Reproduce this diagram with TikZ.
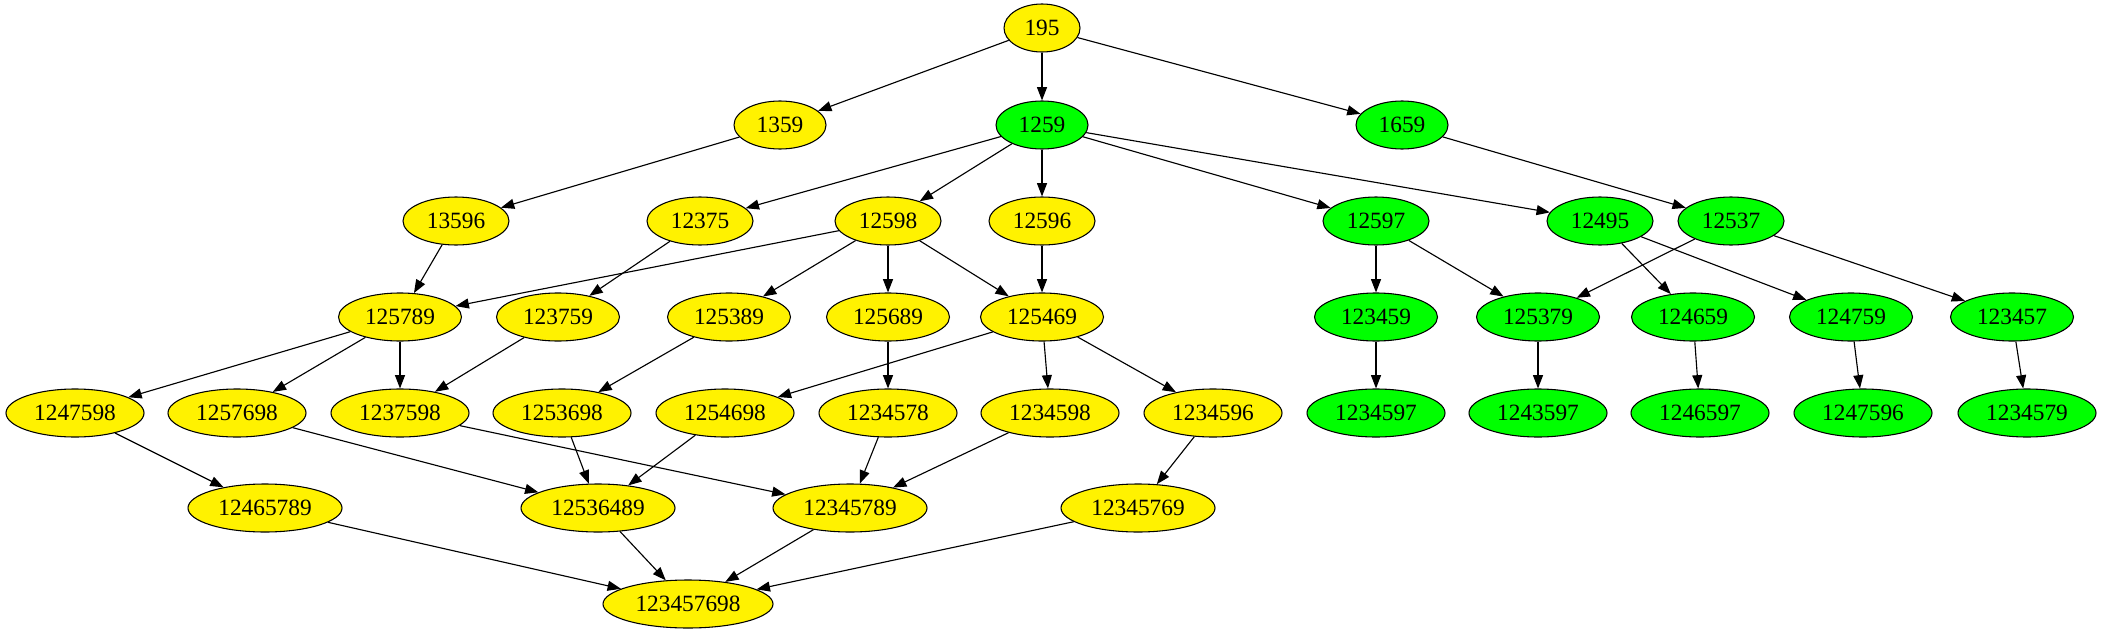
\documentclass[tikz,border=0pt]{standalone}
\usepackage{fontspec}
\setmainfont{Liberation Serif}
\usetikzlibrary{arrows.meta,shapes.geometric}
\begin{document}
\begin{tikzpicture}[x=0.75pt,y=-0.75pt,
  nd/.style={ellipse, draw, line width=0.8pt, inner sep=0pt, minimum height=36pt, font=\fontsize{17.5}{20}\selectfont},
  yn/.style={nd, fill=yellow},
  gn/.style={nd, fill=green},
  w3/.style={minimum width=57pt},
  w4/.style={minimum width=69pt},
  w5/.style={minimum width=79.5pt},
  w6/.style={minimum width=92.25pt},
  w7/.style={minimum width=103.5pt},
  w8/.style={minimum width=115.5pt},
  w9/.style={minimum width=127.5pt},
  arr/.style={-{Triangle[length=10pt,width=7.5pt]}, line width=0.85pt}
]
\useasboundingbox (0,0) rectangle (2101,635);
% row 1
\node[yn,w3] (n195) at (1042,28) {195};
% row 2
\node[yn,w4] (n1359) at (780,125) {1359};
\node[gn,w4] (n1259) at (1042,125) {1259};
\node[gn,w4] (n1659) at (1402,125) {1659};
% row 3
\node[yn,w5] (n13596) at (456,221) {13596};
\node[yn,w5] (n12375) at (700,221) {12375};
\node[yn,w5] (n12598) at (888,221) {12598};
\node[yn,w5] (n12596) at (1042,221) {12596};
\node[gn,w5] (n12597) at (1376,221) {12597};
\node[gn,w5] (n12495) at (1600,221) {12495};
\node[gn,w5] (n12537) at (1731,221) {12537};
% row 4
\node[yn,w6] (n125789) at (400,317) {125789};
\node[yn,w6] (n123759) at (558,317) {123759};
\node[yn,w6] (n125389) at (729,317) {125389};
\node[yn,w6] (n125689) at (888,317) {125689};
\node[yn,w6] (n125469) at (1042,317) {125469};
\node[gn,w6] (n123459) at (1376,317) {123459};
\node[gn,w6] (n125379) at (1538,317) {125379};
\node[gn,w6] (n124659) at (1693,317) {124659};
\node[gn,w6] (n124759) at (1851,317) {124759};
\node[gn,w6] (n123457) at (2012,317) {123457};
% row 5
\node[yn,w7] (n1247598) at (75,413) {1247598};
\node[yn,w7] (n1257698) at (237,413) {1257698};
\node[yn,w7] (n1237598) at (400,413) {1237598};
\node[yn,w7] (n1253698) at (562,413) {1253698};
\node[yn,w7] (n1254698) at (725,413) {1254698};
\node[yn,w7] (n1234578) at (888,413) {1234578};
\node[yn,w7] (n1234598) at (1050,413) {1234598};
\node[yn,w7] (n1234596) at (1213,413) {1234596};
\node[gn,w7] (n1234597) at (1376,413) {1234597};
\node[gn,w7] (n1243597) at (1538,413) {1243597};
\node[gn,w7] (n1246597) at (1700,413) {1246597};
\node[gn,w7] (n1247596) at (1863,413) {1247596};
\node[gn,w7] (n1234579) at (2027,413) {1234579};
% row 6
\node[yn,w8] (n12465789) at (265,508) {12465789};
\node[yn,w8] (n12536489) at (598,508) {12536489};
\node[yn,w8] (n12345789) at (850,508) {12345789};
\node[yn,w8] (n12345769) at (1138,508) {12345769};
% row 7
\node[yn,w9] (n123457698) at (688,604) {123457698};
% edges
\draw[arr] (n195) -- (n1359);
\draw[arr] (n195) -- (n1259);
\draw[arr] (n195) -- (n1659);
\draw[arr] (n1359) -- (n13596);
\draw[arr] (n1259) -- (n12375);
\draw[arr] (n1259) -- (n12598);
\draw[arr] (n1259) -- (n12596);
\draw[arr] (n1259) -- (n12597);
\draw[arr] (n1259) -- (n12495);
\draw[arr] (n1659) -- (n12537);
\draw[arr] (n13596) -- (n125789);
\draw[arr] (n12375) -- (n123759);
\draw[arr] (n12598) -- (n125789);
\draw[arr] (n12598) -- (n125389);
\draw[arr] (n12598) -- (n125689);
\draw[arr] (n12598) -- (n125469);
\draw[arr] (n12596) -- (n125469);
\draw[arr] (n12597) -- (n123459);
\draw[arr] (n12597) -- (n125379);
\draw[arr] (n12495) -- (n124659);
\draw[arr] (n12495) -- (n124759);
\draw[arr] (n12537) -- (n125379);
\draw[arr] (n12537) -- (n123457);
\draw[arr] (n125789) -- (n1247598);
\draw[arr] (n125789) -- (n1257698);
\draw[arr] (n125789) -- (n1237598);
\draw[arr] (n123759) -- (n1237598);
\draw[arr] (n125389) -- (n1253698);
\draw[arr] (n125689) -- (n1234578);
\draw[arr] (n125469) -- (n1254698);
\draw[arr] (n125469) -- (n1234598);
\draw[arr] (n125469) -- (n1234596);
\draw[arr] (n123459) -- (n1234597);
\draw[arr] (n125379) -- (n1243597);
\draw[arr] (n124659) -- (n1246597);
\draw[arr] (n124759) -- (n1247596);
\draw[arr] (n123457) -- (n1234579);
\draw[arr] (n1247598) -- (n12465789);
\draw[arr] (n1257698) -- (n12536489);
\draw[arr] (n1237598) -- (n12345789);
\draw[arr] (n1253698) -- (n12536489);
\draw[arr] (n1254698) -- (n12536489);
\draw[arr] (n1234578) -- (n12345789);
\draw[arr] (n1234598) -- (n12345789);
\draw[arr] (n1234596) -- (n12345769);
\draw[arr] (n12465789) -- (n123457698);
\draw[arr] (n12536489) -- (n123457698);
\draw[arr] (n12345789) -- (n123457698);
\draw[arr] (n12345769) -- (n123457698);
\end{tikzpicture}
\end{document}
